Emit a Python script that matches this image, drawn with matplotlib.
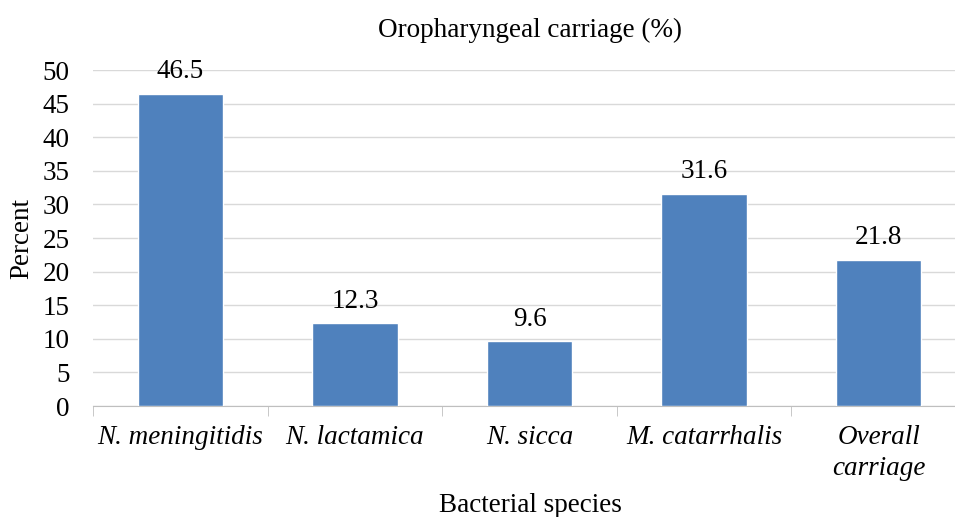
import matplotlib.pyplot as plt
import numpy as np

plt.rcParams['font.family'] = ['Liberation Serif', 'DejaVu Serif']

species = ['N. meningitidis', 'N. lactamica', 'N. sicca', 'M. catarrhalis', 'Overall\ncarriage']
carriage = [46.5, 12.3, 9.6, 31.6, 21.8]

fs = 19.5

fig = plt.figure(figsize=(9.55, 5.17), dpi=100)
ax = fig.add_axes([93 / 955, 1 - 406 / 517, (966 - 93) / 955, (406 - 70) / 517])

x = np.arange(len(species))
ax.bar(x, carriage, width=0.49, color='#4f81bd', edgecolor='white', linewidth=1, zorder=3)
for xi, v in zip(x, carriage):
    ax.text(xi, v + 1.4, f'{v}', ha='center', va='bottom', fontsize=fs)

ax.set_xlim(-0.5, len(species) - 0.5)
ax.set_ylim(0, 50)
ax.set_yticks(range(0, 51, 5))
ax.grid(axis='y', color='#d9d9d9', linewidth=1, zorder=0)
ax.set_xticks(x)
ax.set_xticklabels(species, fontstyle='italic', fontsize=fs, linespacing=1.3)
ax.set_xticks(np.arange(-0.5, len(species), 1), minor=True)
ax.tick_params(axis='x', which='major', length=0, pad=14)
ax.tick_params(axis='x', which='minor', length=7, color='#bfbfbf', direction='out')
ax.tick_params(axis='y', length=0, labelsize=fs, pad=17)
for s in ['top', 'right', 'left']:
    ax.spines[s].set_visible(False)
ax.spines['bottom'].set_color('#bfbfbf')

ax.set_title('Oropharyngeal carriage (%)', fontsize=fs, pad=24)
fig.text(22 / 955, 1 - 238 / 517, 'Percent', rotation=90, ha='center', va='center', fontsize=fs)
fig.text(530 / 955, 1 - 506 / 517, 'Bacterial species', ha='center', va='center', fontsize=fs)

fig.savefig('out.png', dpi=100)
